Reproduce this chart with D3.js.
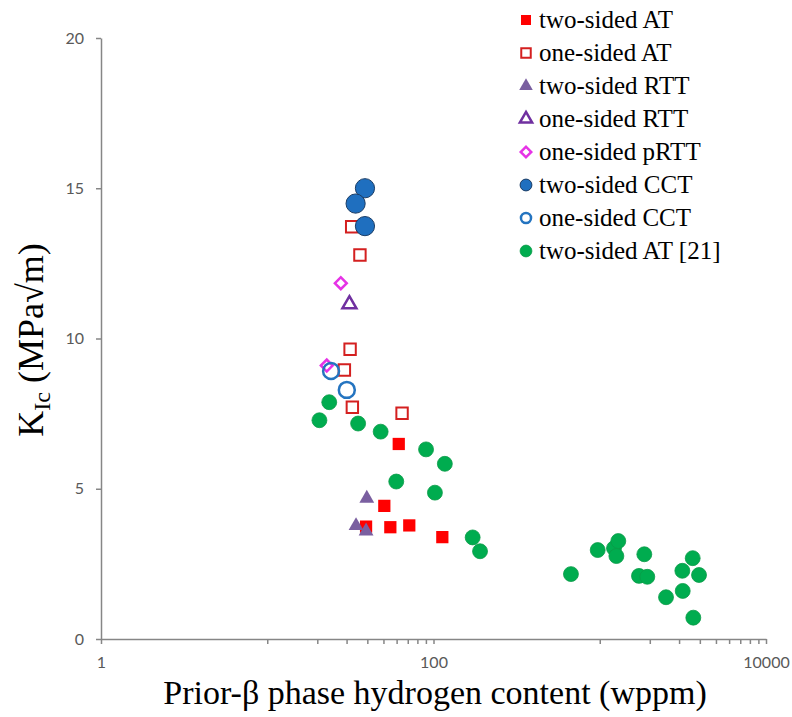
<!DOCTYPE html>
<html>
<head>
<meta charset="utf-8">
<script src="https://cdn.jsdelivr.net/npm/d3@7"></script>
<style>
  body { margin: 0; background: #fff; }
  .tick text { font-family: Lato, "Open Sans", sans-serif; font-size: 16px; fill: #595959; }
  .serif { font-family: "Liberation Serif", "Times New Roman", serif; fill: #000; }
</style>
</head>
<body>
<div id="chart"></div>
<script>
// values: [hydrogen wppm, KIc MPa√m]
const twoSidedAT = [[61.8, 6.49], [50.6, 4.43], [39.3, 3.74], [55.0, 3.72], [71.5, 3.78], [113, 3.39]]
const oneSidedAT = [[32.2, 13.72], [36.1, 12.78], [31.5, 9.64], [29.1, 8.95], [32.5, 7.71], [64.7, 7.51]]
const twoSidedRTT = [[39.7, 4.68], [34.2, 3.77], [39.3, 3.59]]
const oneSidedRTT = [[31.2, 11.14]]
const oneSidedPRTT = [[27.7, 11.84], [22.8, 9.1]]
const twoSidedCCT = [[38.7, 15.0], [34.0, 14.49], [38.7, 13.74]]
const oneSidedCCT = [[24.2, 8.92], [30.1, 8.29]]
const twoSidedAT21 = [
  [23.6, 7.88], [20.6, 7.28], [35.2, 7.17], [48.1, 6.90], [90.2, 6.31], [117, 5.83],
  [59.7, 5.24], [102, 4.87], [172, 3.38], [190.5, 2.92], [671, 2.16], [972, 2.96],
  [1218, 3.02], [1293, 3.26], [1259, 2.76], [1854, 2.82], [1722, 2.10], [1932, 2.07],
  [2504, 1.39], [3139, 2.27], [3623, 2.69], [3955, 2.13], [3155, 1.60], [3654, 0.71]
]

const xTicks = [1, 10, 20, 30, 40, 50, 60, 70, 80, 90, 100, 1000, 2000, 3000, 4000, 5000, 6000, 7000, 8000, 9000, 10000]
const xLabels = [1, 100, 10000]
const yTicks = [0, 5, 10, 15, 20]

const width = 792
const height = 717

const svg = d3.select('#chart').append('svg')
  .attr('width', width)
  .attr('height', height)

const x = d3.scaleLog().domain([1, 10000]).range([101, 766])
const y = d3.scaleLinear().domain([0, 20]).range([639, 38])

// axes
const axisColor = '#868686'
svg.append('g')
  .attr('transform', `translate(${x(1)},0)`)
  .call(d3.axisLeft(y).tickValues(yTicks).tickSize(5).tickSizeOuter(0).tickPadding(12))
  .call(g => g.selectAll('path, line').attr('stroke', axisColor).attr('stroke-width', 1.5))

svg.append('g')
  .attr('transform', `translate(0,${y(0)})`)
  .call(d3.axisBottom(x).tickValues(xTicks).tickSize(5).tickSizeOuter(0).tickPadding(13)
    .tickFormat(d => xLabels.includes(d) ? d : ''))
  .call(g => g.selectAll('path, line').attr('stroke', axisColor).attr('stroke-width', 1.5))

// axis titles
svg.append('text').attr('class', 'serif')
  .attr('x', 435).attr('y', 704)
  .attr('text-anchor', 'middle')
  .style('font-size', '34px')
  .text('Prior-β phase hydrogen content (wppm)')

const yTitle = svg.append('text').attr('class', 'serif')
  .attr('transform', 'translate(43,340) rotate(-90)')
  .attr('text-anchor', 'middle')
  .style('font-size', '36px')
yTitle.append('tspan').text('K')
yTitle.append('tspan').attr('dy', 7).style('font-size', '24px').text('Ic')
yTitle.append('tspan').attr('dy', -7).text(' (MPa√m)')

// series styles, in legend order
const series = [
  {name: 'two-sided AT', data: twoSidedAT, type: d3.symbolSquare, size: 150, legSize: 100, fill: '#ff0000', stroke: 'none', sw: 0},
  {name: 'one-sided AT', data: oneSidedAT, type: d3.symbolSquare, size: 130, legSize: 90, fill: 'none', stroke: '#d42020', sw: 2},
  {name: 'two-sided RTT', data: twoSidedRTT, type: d3.symbolTriangle, size: 95, legSize: 80, fill: '#7a5fa0', stroke: 'none', sw: 0},
  {name: 'one-sided RTT', data: oneSidedRTT, type: d3.symbolTriangle, size: 85, legSize: 65, fill: 'none', stroke: '#7030a0', sw: 2.5},
  {name: 'one-sided pRTT', data: oneSidedPRTT, type: d3.symbolSquare, size: 70, legSize: 55, fill: 'none', stroke: '#e633e6', sw: 2.5, rotate: 45},
  {name: 'two-sided CCT', data: twoSidedCCT, type: d3.symbolCircle, size: 290, legSize: 110, fill: '#1f6fbf', stroke: '#1b3d66', sw: 1},
  {name: 'one-sided CCT', data: oneSidedCCT, type: d3.symbolCircle, size: 200, legSize: 80, fill: 'none', stroke: '#2474c0', sw: 2.5},
  {name: 'two-sided AT [21]', data: twoSidedAT21, type: d3.symbolCircle, size: 175, legSize: 110, fill: '#00ac4f', stroke: '#0a9a48', sw: 0.8}
]

const marks = svg.append('g')
series.forEach(s => {
  marks.append('g').selectAll('path').data(s.data).enter().append('path')
    .attr('d', d3.symbol().type(s.type).size(s.size))
    .attr('transform', d => `translate(${x(d[0])},${y(d[1])})` + (s.rotate ? ` rotate(${s.rotate})` : ''))
    .attr('fill', s.fill)
    .attr('stroke', s.stroke)
    .attr('stroke-width', s.sw)
})

// legend
const legend = svg.append('g').attr('transform', 'translate(526,20)')
const rows = legend.selectAll('g').data(series).enter().append('g')
  .attr('transform', (d, i) => `translate(0,${i * 33})`)
rows.append('path')
  .attr('d', d => d3.symbol().type(d.type).size(d.legSize)())
  .attr('transform', d => d.rotate ? `rotate(${d.rotate})` : null)
  .attr('fill', d => d.fill)
  .attr('stroke', d => d.stroke)
  .attr('stroke-width', d => d.sw)
rows.append('text').attr('class', 'serif')
  .attr('x', 13).attr('y', 8)
  .style('font-size', '25px')
  .text(d => d.name)
</script>
</body>
</html>
